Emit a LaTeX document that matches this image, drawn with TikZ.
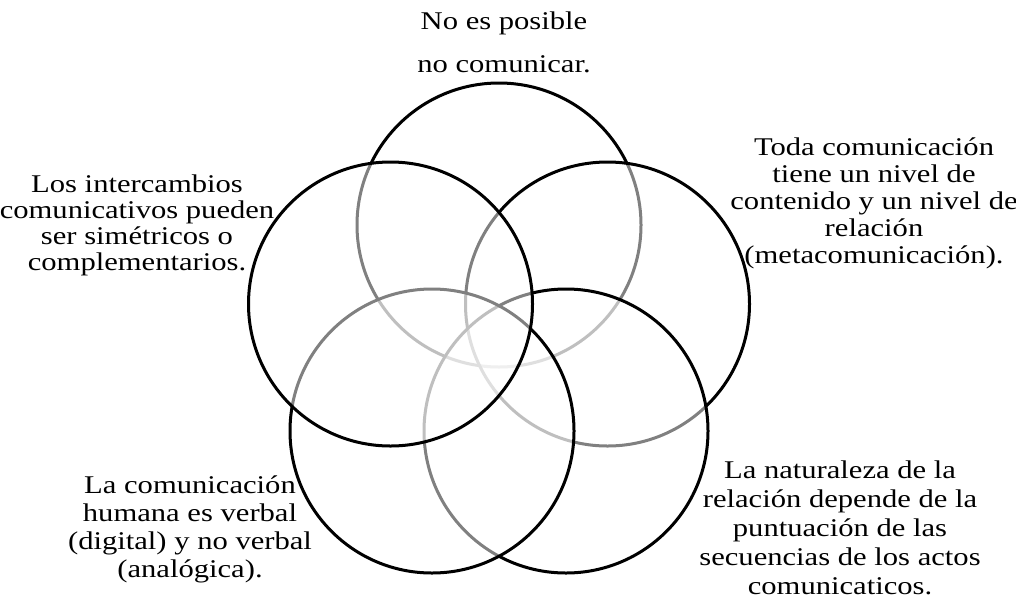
\documentclass[tikz,border=0pt]{standalone}
\usepackage{fontspec}
\setmainfont{Liberation Serif}[FakeStretch=1.2]
\begin{document}
\begin{tikzpicture}[x=1pt,y=-1pt]
\tikzset{
  venn/.style={circle, draw=black, line width=3pt, fill=white, fill opacity=0.5,
    minimum size=284pt, inner sep=0pt, outer sep=0pt},
  lbl/.style={align=center, inner sep=0pt, anchor=base,
    font=\fontsize{25.5}{27}\selectfont}
}
\useasboundingbox (0,0) rectangle (1016,600);
% five overlapping circles, drawn clockwise from the top
\node[venn] (ct) at (499,225) {};
\node[venn] (cr) at (607.5,304) {};
\node[venn] (cbr) at (566,431) {};
\node[venn] (cbl) at (432,431) {};
\node[venn] (cl) at (390.5,304) {};
% labels, each placed at the baseline of its last line
\node[lbl, font=\fontsize{25.5}{43}\selectfont] (tt) at (504,72) {No es posible\\no comunicar.};
\node[lbl, font=\fontsize{25.5}{26}\selectfont] (tl) at (137,270) {Los intercambios\\comunicativos pueden\\ser simétricos o\\complementarios.};
\node[lbl] (tr) at (874,263) {Toda comunicación\\tiene un nivel de\\contenido y un nivel de\\relación\\(metacomunicación).};
\node[lbl, font=\fontsize{25.5}{28}\selectfont] (tbl) at (190,577) {La comunicación\\humana es verbal\\(digital) y no verbal\\(analógica).};
\node[lbl, font=\fontsize{25.5}{29}\selectfont] (tbr) at (840,594) {La naturaleza de la\\relación depende de la\\puntuación de las\\secuencias de los actos\\comunicaticos.};
\end{tikzpicture}
\end{document}
